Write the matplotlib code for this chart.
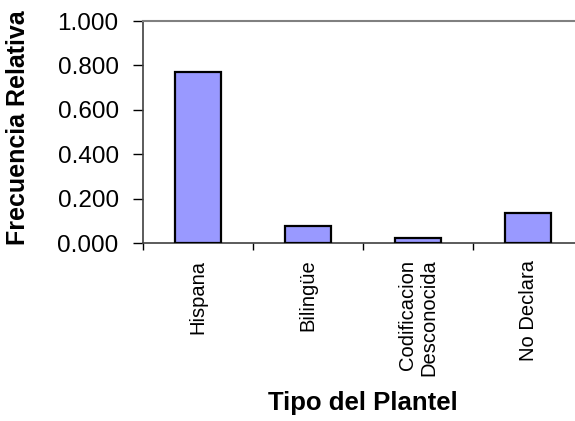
import matplotlib
matplotlib.use("Agg")
import matplotlib.pyplot as plt
import numpy as np

categories = ["Hispana", "Bilingüe", "Codificacion\nDesconocida", "No Declara"]
values = [0.770, 0.077, 0.023, 0.133]
y_ticks = [0.0, 0.2, 0.4, 0.6, 0.8, 1.0]

plt.rcParams["font.family"] = ["Liberation Sans", "DejaVu Sans"]

fig = plt.figure(figsize=(5.75, 4.21), dpi=100)
# plot area runs past the right edge of the picture, as in the reference
ax = fig.add_axes([143 / 575, 1 - 243 / 421, 440 / 575, 222 / 421])

x = np.arange(len(categories))
ax.bar(x, values, width=0.41, color="#9999FF", edgecolor="black", linewidth=1.6, zorder=3)

ax.set_xlim(-0.5, len(categories) - 0.5)
ax.set_ylim(0, 1.0)
ax.set_yticks(y_ticks)
ax.set_yticklabels([f"{v:.3f}" for v in y_ticks], fontsize=17.5)
ax.tick_params(axis="y", direction="out", length=7, width=1, pad=10.5)

ax.set_xticks(np.arange(len(categories) + 1) - 0.5)
ax.set_xticklabels([])
ax.set_xticks(x, minor=True)
ax.set_xticklabels(categories, minor=True, rotation=90, fontsize=14.5,
                   va="top", ha="center", multialignment="right")
ax.tick_params(axis="x", which="major", direction="out", length=5, width=1)
ax.tick_params(axis="x", which="minor", length=0, pad=12)

for side in ["top", "right"]:
    ax.spines[side].set_color("#808080")
    ax.spines[side].set_linewidth(1.5)
ax.spines["left"].set_color("#404040")
ax.spines["bottom"].set_color("#404040")
ax.spines["left"].set_linewidth(1.2)
ax.spines["bottom"].set_linewidth(1.2)

fig.text(18 / 575, 1 - 128 / 421, "Frecuencia Relativa", fontsize=18, fontweight="bold",
         rotation=90, ha="center", va="center")
fig.text(363 / 575, 1 - 403 / 421, "Tipo del Plantel", fontsize=18.5, fontweight="bold",
         ha="center", va="center")

fig.savefig("out.png", dpi=100)
